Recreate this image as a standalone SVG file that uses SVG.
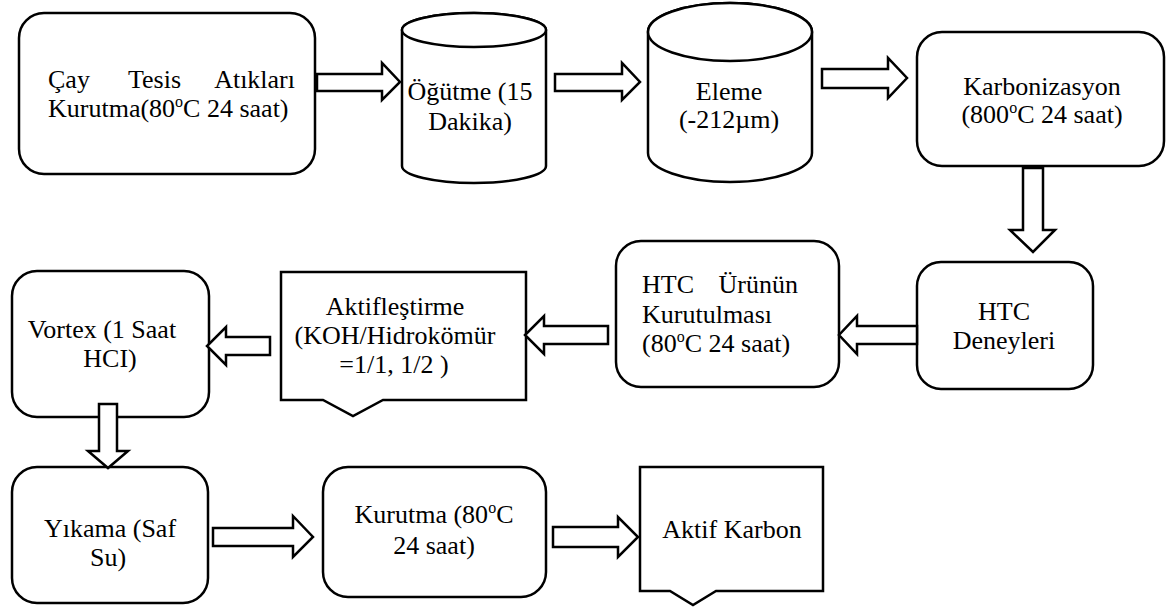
<svg xmlns="http://www.w3.org/2000/svg" width="1166" height="608" viewBox="0 0 1166 608">
<style>
.box{fill:#fff;stroke:#000;stroke-width:2.5}
.arr{fill:#fff;stroke:#000;stroke-width:2.5;stroke-linejoin:miter}
text{font-family:"Liberation Serif","Times New Roman",serif;font-size:26px;fill:#000}
.c{text-anchor:middle}
.e{text-anchor:end}
.sup{font-size:16px}
</style>
<rect width="1166" height="608" fill="#fff"/>
<g id="n1">
<rect class="box" x="19" y="13" width="296" height="161" rx="25"/>
<text x="48" y="88">Çay</text>
<text x="128" y="88">Tesis</text>
<text class="e" x="295" y="88">Atıkları</text>
<text x="48" y="117">Kurutma(80<tspan class="sup" dy="-10">o</tspan><tspan dy="10">C 24 saat)</tspan></text>
</g>
<g id="n2">
<path class="box" d="M402,30 A72,17 0 0 1 546,30 L546,166 A72,17 0 0 1 402,166 Z"/>
<ellipse class="box" cx="474" cy="30" rx="72" ry="17"/>
<text class="c" x="470" y="100">Öğütme (15</text>
<text class="c" x="470" y="130">Dakika)</text>
</g>
<g id="n3">
<path class="box" d="M648,32 A82,29 0 0 1 812,32 L812,153 A82,29 0 0 1 648,153 Z"/>
<ellipse class="box" cx="730" cy="32" rx="82" ry="29"/>
<text class="c" x="729" y="100">Eleme</text>
<text class="c" x="729" y="128">(-212µm)</text>
</g>
<g id="n4">
<rect class="box" x="917" y="32" width="247" height="134" rx="25"/>
<text class="c" x="1042" y="95">Karbonizasyon</text>
<text class="c" x="1042" y="123">(800<tspan class="sup" dy="-10">o</tspan><tspan dy="10">C 24 saat)</tspan></text>
</g>
<g id="n5">
<rect class="box" x="917" y="262" width="176" height="127" rx="24"/>
<text class="c" x="1004" y="320">HTC</text>
<text class="c" x="1004" y="349">Deneyleri</text>
</g>
<g id="n6">
<rect class="box" x="616" y="241" width="223" height="146" rx="25"/>
<text x="642" y="293">HTC</text>
<text class="e" x="798" y="293">Ürünün</text>
<text x="642" y="323">Kurutulması</text>
<text x="642" y="352">(80<tspan class="sup" dy="-10">o</tspan><tspan dy="10">C 24 saat)</tspan></text>
</g>
<g id="n7">
<path class="box" d="M281,272 H526 V400 H383 L353,416 L323,400 H281 Z"/>
<text class="c" x="395" y="315">Aktifleştirme</text>
<text class="c" x="395" y="344">(KOH/Hidrokömür</text>
<text class="c" x="394" y="373">=1/1, 1/2 )</text>
</g>
<g id="n8">
<rect class="box" x="12" y="271" width="197" height="146" rx="25"/>
<text class="c" x="102" y="338">Vortex (1 Saat</text>
<text class="c" x="110" y="367">HCI)</text>
</g>
<g id="n9">
<rect class="box" x="12" y="467" width="196" height="136" rx="25"/>
<text class="c" x="110" y="537">Yıkama (Saf</text>
<text class="c" x="108" y="566">Su)</text>
</g>
<g id="n10">
<rect class="box" x="323" y="467" width="223" height="130" rx="25"/>
<text class="c" x="434" y="523">Kurutma (80<tspan class="sup" dy="-10">o</tspan><tspan dy="10">C</tspan></text>
<text class="c" x="434" y="554">24 saat)</text>
</g>
<g id="n11">
<path class="box" d="M640,467 H823 V591 H716 L693,605 L670,591 H640 Z"/>
<text class="c" x="732" y="538">Aktif Karbon</text>
</g>
<g id="connectors">
<polygon class="arr" points="317,74 382,74 382,63 400,82 382,100 382,91 317,91"/>
<polygon class="arr" points="555,74 622,74 622,63 640,82 622,100 622,91 555,91"/>
<polygon class="arr" points="822,69 888,69 888,58 907,78 888,98 888,88 822,88"/>
<polygon class="arr" points="1023,168 1043,168 1043,230 1055,230 1033,252 1010,230 1023,230"/>
<polygon class="arr" points="917,326 857,326 857,316 839,335 857,354 857,344 917,344"/>
<polygon class="arr" points="608,326 544,326 544,316 525,335 544,354 544,344 608,344"/>
<polygon class="arr" points="270,337 226,337 226,327 207,346 226,365 226,355 270,355"/>
<polygon class="arr" points="99,404 117,404 117,451 128,451 108,468 88,451 99,451"/>
<polygon class="arr" points="213,528 293,528 293,516 313,537 293,557 293,546 213,546"/>
<polygon class="arr" points="553,527 618,527 618,517 638,537 618,557 618,547 553,547"/>
</g>
</svg>
